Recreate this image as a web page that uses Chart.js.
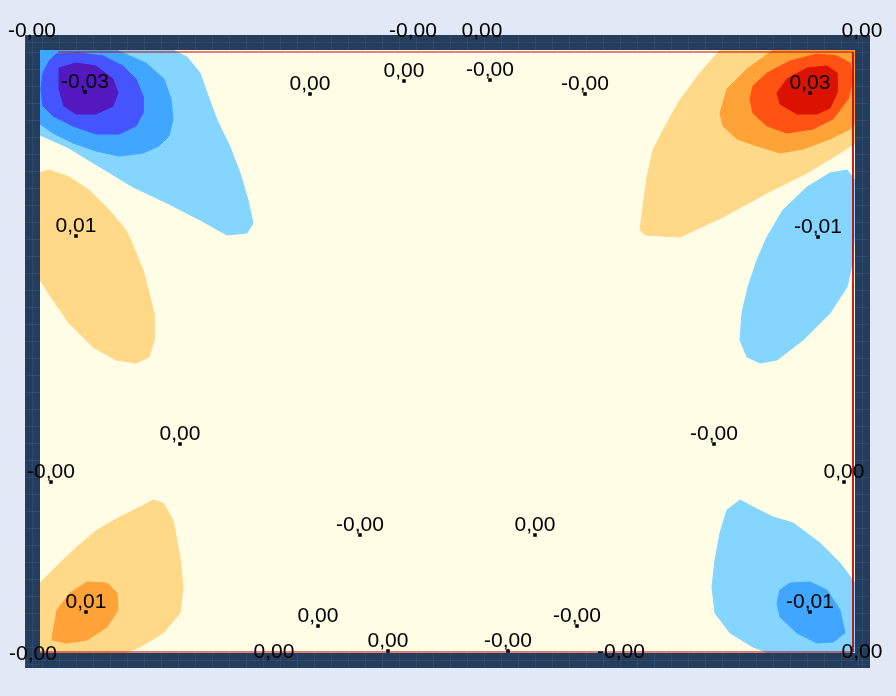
<!DOCTYPE html>
<html>
<head>
<meta charset="utf-8">
<style>
  html, body { margin: 0; padding: 0; background: #e2e8f5; }
  #wrap { width: 896px; height: 696px; }
</style>
<script src="https://cdn.jsdelivr.net/npm/chart.js@4.4.1/dist/chart.umd.min.js"></script>
</head>
<body>
<div id="wrap"><canvas id="plateChart" width="896" height="696"></canvas></div>
<script>
// plate size (m)
const plateWidth = 8.15;
const plateHeight = 6.03;

// contour bands, [x, y] in m, back to front
const lightBlueTL = [[0,6.03],[1.33,6.03],[1.47,5.96],[1.60,5.80],[1.67,5.60],[1.77,5.33],[1.90,5.06],[2.00,4.80],[2.08,4.53],[2.13,4.30],[2.07,4.20],[1.87,4.18],[1.60,4.33],[1.27,4.50],[0.93,4.66],[0.60,4.86],[0.27,5.06],[0,5.18]];
const midBlueTL = [[0,6.03],[0.76,6.03],[1.06,5.90],[1.24,5.74],[1.31,5.54],[1.33,5.34],[1.29,5.17],[1.19,5.07],[1.03,5.00],[0.79,4.97],[0.56,5.02],[0.33,5.10],[0.13,5.20],[0,5.29]];
const blueTL = [[0.09,5.92],[0.16,5.99],[0.39,6.00],[0.63,5.97],[0.83,5.87],[0.96,5.74],[1.03,5.57],[1.03,5.40],[0.96,5.27],[0.79,5.19],[0.56,5.19],[0.33,5.27],[0.13,5.37],[0.03,5.47],[0.01,5.64],[0.03,5.80]];
const purpleTL = [[0.19,5.85],[0.36,5.90],[0.56,5.87],[0.73,5.74],[0.78,5.60],[0.73,5.47],[0.56,5.39],[0.36,5.39],[0.24,5.47],[0.19,5.64],[0.19,5.77]];

const lightOrangeTR = [[6.80,6.03],[6.60,5.80],[6.40,5.53],[6.27,5.30],[6.13,5.03],[6.07,4.76],[6.03,4.46],[6.00,4.23],[6.05,4.18],[6.40,4.16],[6.83,4.36],[7.27,4.60],[7.67,4.80],[8.00,5.00],[8.15,5.10],[8.15,6.03]];
const orangeTR = [[7.33,6.03],[7.07,5.84],[6.87,5.64],[6.80,5.40],[6.83,5.27],[6.97,5.14],[7.17,5.07],[7.40,5.00],[7.63,5.04],[7.90,5.14],[8.10,5.24],[8.15,5.30],[8.15,6.03]];
const redTR = [[7.10,5.54],[7.13,5.67],[7.27,5.80],[7.50,5.92],[7.77,5.99],[7.97,5.97],[8.10,5.90],[8.13,5.74],[8.08,5.54],[7.93,5.34],[7.73,5.24],[7.47,5.20],[7.27,5.27],[7.13,5.40]];
const darkRedTR = [[7.37,5.60],[7.47,5.74],[7.67,5.85],[7.87,5.87],[7.97,5.80],[7.97,5.60],[7.90,5.45],[7.77,5.39],[7.57,5.39],[7.40,5.49]];

const lightOrangeL = [[0,4.80],[0.09,4.83],[0.29,4.76],[0.49,4.63],[0.69,4.43],[0.86,4.23],[0.96,4.00],[1.03,3.83],[1.09,3.60],[1.14,3.40],[1.14,3.13],[1.09,2.96],[0.96,2.90],[0.76,2.93],[0.53,3.06],[0.29,3.30],[0.13,3.53],[0,3.73]];
const lightBlueR = [[8.07,4.83],[7.90,4.80],[7.67,4.66],[7.43,4.43],[7.27,4.16],[7.17,3.93],[7.08,3.66],[7.02,3.40],[7.00,3.13],[7.07,2.96],[7.20,2.90],[7.37,2.93],[7.63,3.13],[7.90,3.40],[8.07,3.66],[8.13,3.93],[8.15,4.26],[8.15,4.73]];

const lightOrangeBL = [[0,0.70],[0.20,0.90],[0.37,1.06],[0.57,1.23],[0.80,1.36],[1.00,1.46],[1.13,1.53],[1.23,1.50],[1.33,1.33],[1.40,0.96],[1.43,0.66],[1.40,0.40],[1.23,0.20],[1.00,0.06],[0.85,0],[0,0]];
const orangeBL = [[0.12,0.13],[0.13,0.21],[0.17,0.43],[0.30,0.60],[0.47,0.71],[0.67,0.70],[0.77,0.60],[0.78,0.43],[0.67,0.26],[0.47,0.13],[0.27,0.10]];

const lightBlueBR = [[7.00,1.53],[6.87,1.43],[6.80,1.20],[6.75,0.93],[6.72,0.66],[6.75,0.40],[6.90,0.20],[7.13,0.06],[7.28,0],[8.15,0],[8.15,0.70],[8.00,0.90],[7.80,1.10],[7.53,1.30],[7.33,1.36],[7.13,1.46]];
const midBlueBR = [[7.40,0.63],[7.50,0.70],[7.70,0.71],[7.87,0.63],[8.00,0.43],[8.05,0.20],[7.93,0.11],[7.77,0.10],[7.57,0.20],[7.40,0.36],[7.37,0.50]];

// plate edge line
const edgeLine = [[0.18,6.01],[8.13,6.01],[8.13,0.01],[0,0.01]];

// value labels (marker point and value)
const labelX = [-0.08, 3.73, 4.42, 8.22, 0.45, 2.70, 3.64, 4.50, 5.45, 7.70, 0.36, 7.78, 1.40, 6.74, 0.11, 8.04, 3.20, 4.95, 0.46, 7.70, 2.78, 3.48, 4.68, 5.37, 2.34, 5.81, -0.07, 8.22];
const labelY = [6.12, 6.12, 6.12, 6.12, 5.61, 5.59, 5.72, 5.73, 5.59, 5.60, 4.17, 4.16, 2.09, 2.09, 1.71, 1.71, 1.18, 1.18, 0.41, 0.41, 0.27, 0.02, 0.02, 0.27, -0.09, -0.09, -0.11, -0.09];
const labelValue = [-0.001, -0.001, 0.001, 0.001, -0.031, 0.001, 0.001, -0.001, -0.001, 0.031, 0.012, -0.012, 0.002, -0.002, -0.001, 0.001, -0.001, 0.001, 0.012, -0.012, 0.001, 0.001, -0.001, -0.001, 0.001, -0.001, -0.001, 0.001];

const bands = [
    { pts: lightBlueTL, color: '#84d5ff' },
    { pts: midBlueTL, color: '#41a6ff' },
    { pts: blueTL, color: '#4454ff' },
    { pts: purpleTL, color: '#5319bf' },
    { pts: lightOrangeTR, color: '#ffd888' },
    { pts: orangeTR, color: '#ffa237' },
    { pts: redTR, color: '#ff5213' },
    { pts: darkRedTR, color: '#dc1200' },
    { pts: lightOrangeL, color: '#ffd888' },
    { pts: lightBlueR, color: '#84d5ff' },
    { pts: lightOrangeBL, color: '#ffd888' },
    { pts: orangeBL, color: '#ffa237' },
    { pts: lightBlueBR, color: '#84d5ff' },
    { pts: midBlueBR, color: '#41a6ff' }
];

const toXY = arr => arr.map(p => ({ x: p[0], y: p[1] }));
const fmt = v => v.toFixed(2).replace('.', ',');

const datasets = bands.map((b, i) => {
    const pts = toXY(b.pts);
    pts.push(pts[0]);
    return {
        data: pts,
        showLine: true,
        fill: 'shape',
        backgroundColor: b.color,
        borderColor: b.color,
        borderWidth: 1,
        pointRadius: 0,
        tension: 0,
        order: 100 - i
    };
});

datasets.push({
    data: toXY(edgeLine),
    showLine: true,
    fill: false,
    borderColor: '#c80000',
    borderWidth: 1,
    pointRadius: 0,
    order: 2
});

datasets.push({
    data: labelX.map((x, i) => ({ x: x, y: labelY[i] })),
    showLine: false,
    pointStyle: 'rect',
    pointRadius: 2.5,
    backgroundColor: '#000',
    borderWidth: 0,
    clip: false,
    order: 1
});

// frame and cream plate background
const framePlugin = {
    id: 'frame',
    beforeDatasetsDraw(chart) {
        const { ctx, chartArea: a } = chart;
        const w = 15;
        ctx.save();
        ctx.fillStyle = '#243d5c';
        ctx.fillRect(a.left - w, a.top - w, a.right - a.left + 2 * w, a.bottom - a.top + 2 * w);
        ctx.strokeStyle = 'rgba(70,100,140,0.3)';
        ctx.lineWidth = 1;
        ctx.beginPath();
        for (let x = a.left - w + 0.5; x < a.right + w; x += 17) {
            ctx.moveTo(x, a.top - w); ctx.lineTo(x, a.top);
            ctx.moveTo(x, a.bottom); ctx.lineTo(x, a.bottom + w);
        }
        for (let y = a.top - w + 0.5; y < a.bottom + w; y += 17) {
            ctx.moveTo(a.left - w, y); ctx.lineTo(a.left, y);
            ctx.moveTo(a.right, y); ctx.lineTo(a.right + w, y);
        }
        ctx.moveTo(a.left - w, a.top - 7.5); ctx.lineTo(a.right + w, a.top - 7.5);
        ctx.moveTo(a.left - w, a.bottom + 7.5); ctx.lineTo(a.right + w, a.bottom + 7.5);
        ctx.moveTo(a.left - 7.5, a.top - w); ctx.lineTo(a.left - 7.5, a.bottom + w);
        ctx.moveTo(a.right + 7.5, a.top - w); ctx.lineTo(a.right + 7.5, a.bottom + w);
        ctx.stroke();
        ctx.fillStyle = '#fffde6';
        ctx.fillRect(a.left, a.top, a.right - a.left, a.bottom - a.top);
        ctx.restore();
    }
};

// value text above each marker
const valueLabels = {
    id: 'valueLabels',
    afterDatasetsDraw(chart) {
        const { ctx, scales } = chart;
        ctx.save();
        ctx.font = '21px "Liberation Sans", Arial, sans-serif';
        ctx.fillStyle = '#000';
        ctx.textAlign = 'center';
        ctx.textBaseline = 'alphabetic';
        labelValue.forEach((v, i) => {
            const px = scales.x.getPixelForValue(labelX[i]);
            const py = scales.y.getPixelForValue(labelY[i]);
            ctx.fillText(fmt(v), px, py - 4);
        });
        ctx.restore();
    }
};

new Chart(document.getElementById('plateChart').getContext('2d'), {
    type: 'scatter',
    data: { datasets: datasets },
    options: {
        responsive: false,
        animation: false,
        layout: { padding: { left: 40, top: 50, right: 41, bottom: 43 } },
        plugins: {
            legend: { display: false },
            tooltip: { enabled: false }
        },
        scales: {
            x: { type: 'linear', min: 0, max: plateWidth, display: false },
            y: { type: 'linear', min: 0, max: plateHeight, display: false }
        }
    },
    plugins: [framePlugin, valueLabels]
});
</script>
</body>
</html>
